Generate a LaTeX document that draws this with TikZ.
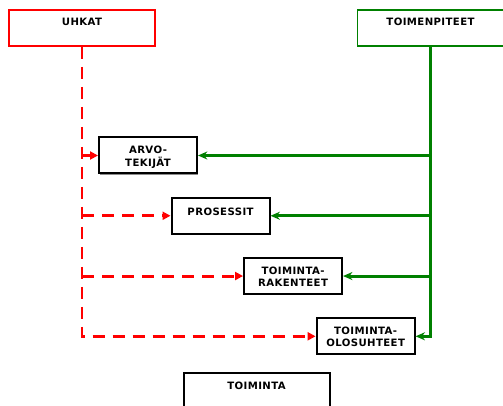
\documentclass[tikz,border=0pt]{standalone}
\usepackage{fontspec}
\newfontfamily\boxfont{DejaVu Sans}[LetterSpace=4]
\usetikzlibrary{arrows.meta,positioning,shadows}

\definecolor{threatred}{RGB}{255,0,0}
\definecolor{actgreen}{RGB}{0,128,0}

\tikzset{
  box/.style={draw=black, line width=1.5pt, fill=white, minimum width=73.5pt,
    minimum height=27pt, inner sep=3pt, align=center, text height=10pt,
    text depth=11pt, font=\boxfont\bfseries\fontsize{7.6}{9.5}\selectfont,
    drop shadow={shadow xshift=0.8pt, shadow yshift=-0.8pt, fill=black!45, opacity=1}},
  twoline/.style={text height=18.5pt, text depth=2.5pt},
  widebox/.style={box, minimum width=109.5pt, line width=1.2pt, text height=9pt,
    text depth=12pt, drop shadow={opacity=0}},
  threat/.style={draw=threatred, line width=2.2pt, dash pattern=on 9pt off 6pt,
    -{Triangle[length=6pt,width=6pt]}},
  measure/.style={draw=actgreen, line width=2.2pt, -{Stealth[length=7pt,width=6pt]}}
}

\begin{document}
\begin{tikzpicture}[x=0.75pt,y=-0.75pt,node distance=45.2pt and 54.4pt,on grid]
  \useasboundingbox (0,0) rectangle (503,406);
  \node[widebox,draw=threatred] (uhkat) at (82,28) {UHKAT};
  \node[widebox,draw=actgreen] (toimp) at (430.5,28) {TOIMENPITEET};
  \node[box,twoline] (arvo) at (148,155.5) {ARVO-\\TEKIJÄT};
  \node[box] (pros) [below right=of arvo] {PROSESSIT};
  \node[box,twoline] (rak) [below right=of pros] {TOIMINTA-\\RAKENTEET};
  \node[box,twoline] (olo) [below right=of rak] {TOIMINTA-\\OLOSUHTEET};
  \node[widebox,line width=1.5pt] (toim) at (256.5,391) {TOIMINTA};
  \path
    (uhkat.south) edge[threat,to path={|- (\tikztotarget)}] (olo.west)
    (uhkat.south |- arvo.west) edge[threat] (arvo.west)
    (uhkat.south |- pros.west) edge[threat] (pros.west)
    (uhkat.south |- rak.west) edge[threat] (rak.west);
  \path
    (toimp.south) edge[measure,to path={|- (\tikztotarget)}] (olo.east)
    (toimp.south |- arvo.east) edge[measure] (arvo.east)
    (toimp.south |- pros.east) edge[measure] (pros.east)
    (toimp.south |- rak.east) edge[measure] (rak.east);
\end{tikzpicture}
\end{document}
